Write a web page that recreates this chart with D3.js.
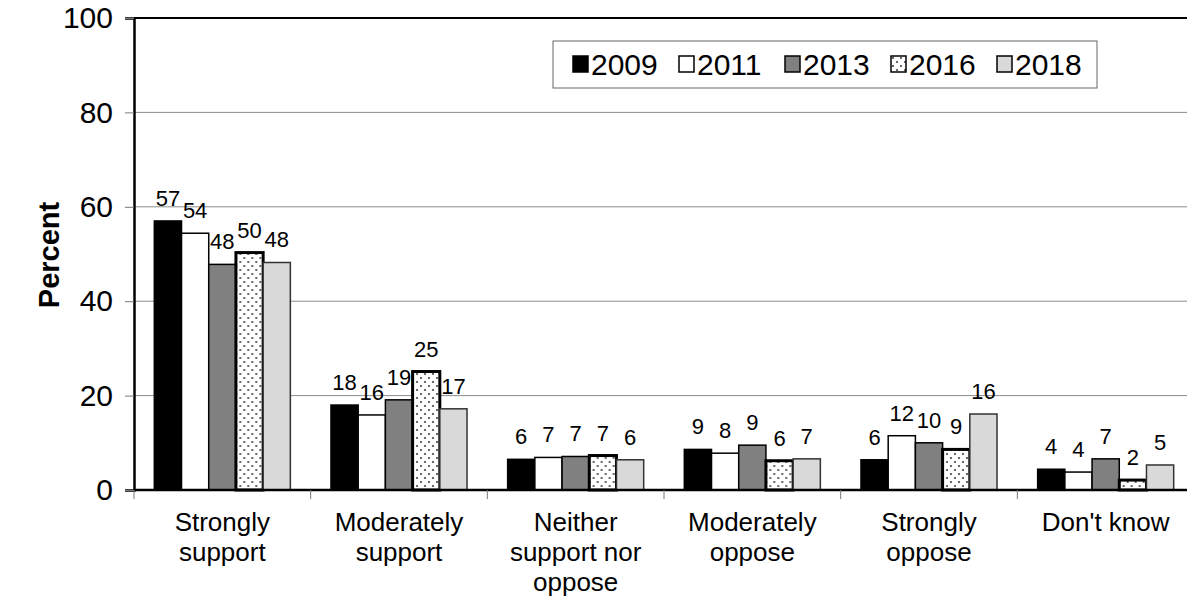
<!DOCTYPE html>
<html>
<head>
<meta charset="utf-8">
<script src="https://cdn.jsdelivr.net/npm/d3@7"></script>
<style>
  html, body { margin: 0; padding: 0; background: #fff; }
  svg { display: block; font-family: "Liberation Sans", Arial, sans-serif; }
</style>
</head>
<body>
<svg id="chart" width="1187" height="598"></svg>
<script>
const categories = [
  ["Strongly", "support"],
  ["Moderately", "support"],
  ["Neither", "support nor", "oppose"],
  ["Moderately", "oppose"],
  ["Strongly", "oppose"],
  ["Don't know"]
];
const years = ["2009", "2011", "2013", "2016", "2018"];
const values2009 = [57.0, 18.0, 6.5, 8.6, 6.4, 4.4];
const values2011 = [54.4, 15.9, 6.9, 7.8, 11.5, 3.8];
const values2013 = [47.8, 19.1, 7.1, 9.5, 10.0, 6.6];
const values2016 = [50.3, 25.1, 7.3, 6.2, 8.6, 2.1];
const values2018 = [48.2, 17.2, 6.4, 6.6, 16.1, 5.3];
const labels2009 = [57, 18, 6, 9, 6, 4];
const labels2011 = [54, 16, 7, 8, 12, 4];
const labels2013 = [48, 19, 7, 9, 10, 7];
const labels2016 = [50, 25, 7, 6, 9, 2];
const labels2018 = [48, 17, 6, 7, 16, 5];
const yTicks = [0, 20, 40, 60, 80, 100];

const seriesValues = [values2009, values2011, values2013, values2016, values2018];
const seriesLabels = [labels2009, labels2011, labels2013, labels2016, labels2018];

const fills = ["#000000", "#ffffff", "#808080", "url(#dots)", "#d9d9d9"];
const strokes = ["#000000", "#000000", "#000000", "#000000", "#333333"];
const strokeW = [1.5, 1.5, 1.5, 3, 1.5];

const svg = d3.select("#chart");
const defs = svg.append("defs");
const pat = defs.append("pattern").attr("id", "dots")
  .attr("patternUnits", "userSpaceOnUse").attr("width", 8).attr("height", 8);
pat.append("rect").attr("width", 8).attr("height", 8).attr("fill", "#fff");
pat.append("circle").attr("cx", 2).attr("cy", 2).attr("r", 1.1).attr("fill", "#444");
pat.append("circle").attr("cx", 6).attr("cy", 6).attr("r", 1.1).attr("fill", "#444");

const pLeft = 134, pRight = 1194, pTop = 18, pBottom = 490;
const catKeys = categories.map((c, i) => i);

const x0 = d3.scaleBand().domain(catKeys).range([pLeft, pRight])
  .paddingInner(0.23).paddingOuter(0.115);
const x1 = d3.scaleBand().domain(years).range([0, x0.bandwidth()]).padding(0);
const y = d3.scaleLinear().domain([0, 100]).range([pBottom, pTop]);

// gridlines
svg.append("g").selectAll("line").data(yTicks.filter(t => t > 0 && t < 100)).join("line")
  .attr("x1", pLeft).attr("x2", pRight)
  .attr("y1", d => y(d)).attr("y2", d => y(d))
  .attr("stroke", "#8c8c8c").attr("stroke-width", 1);

// top border
svg.append("line").attr("x1", pLeft).attr("x2", pRight).attr("y1", y(100)).attr("y2", y(100))
  .attr("stroke", "#000").attr("stroke-width", 2);

// y axis
const yAxis = d3.axisLeft(y).tickValues(yTicks).tickSize(9).tickPadding(12);
const gy = svg.append("g").attr("transform", `translate(${pLeft},0)`).call(yAxis);
gy.select(".domain").attr("stroke", "#000").attr("stroke-width", 2.5);
gy.selectAll(".tick line").attr("stroke", "#777");
gy.selectAll(".tick text").attr("font-size", 30).attr("fill", "#000")
  .attr("font-family", "'Liberation Sans', Arial, sans-serif");

// bars
const groups = svg.append("g").selectAll("g").data(catKeys).join("g")
  .attr("transform", d => `translate(${x0(d)},0)`);
groups.selectAll("rect").data(ci => years.map((yr, si) => ({yr, si, v: seriesValues[si][ci]}))).join("rect")
  .attr("x", d => x1(d.yr)).attr("width", x1.bandwidth())
  .attr("y", d => y(d.v)).attr("height", d => y(0) - y(d.v))
  .attr("fill", d => fills[d.si]).attr("stroke", d => strokes[d.si])
  .attr("stroke-width", d => strokeW[d.si]);

groups.selectAll("text").data(ci => years.map((yr, si) => ({yr, si, v: seriesValues[si][ci], l: seriesLabels[si][ci]}))).join("text")
  .attr("x", d => x1(d.yr) + x1.bandwidth() / 2)
  .attr("y", d => y(d.v) - 15)
  .attr("text-anchor", "middle").attr("font-size", 22).attr("fill", "#000")
  .text(d => d.l);

// x axis
svg.append("line").attr("x1", pLeft).attr("x2", pRight).attr("y1", pBottom).attr("y2", pBottom)
  .attr("stroke", "#000").attr("stroke-width", 2.5);
const step = x0.step();
svg.append("g").selectAll("line").data(d3.range(catKeys.length + 1)).join("line")
  .attr("x1", i => pLeft + i * step).attr("x2", i => pLeft + i * step)
  .attr("y1", pBottom).attr("y2", pBottom + 9)
  .attr("stroke", "#777").attr("stroke-width", 1);

// category labels
const cl = svg.append("g").selectAll("text").data(catKeys).join("text")
  .attr("x", d => x0(d) + x0.bandwidth() / 2)
  .attr("y", 531).attr("text-anchor", "middle").attr("font-size", 26).attr("fill", "#000");
cl.selectAll("tspan").data(d => categories[d]).join("tspan")
  .attr("x", function() { return this.parentNode.getAttribute("x"); })
  .attr("dy", (d, i) => i === 0 ? 0 : 30)
  .text(d => d);

// y title
svg.append("text").attr("transform", "translate(59,255) rotate(-90)")
  .attr("text-anchor", "middle").attr("font-size", 29).attr("font-weight", "bold")
  .text("Percent");

// legend
const lg = svg.append("g");
lg.append("rect").attr("x", 553).attr("y", 41).attr("width", 544).attr("height", 47)
  .attr("fill", "#fff").attr("stroke", "#666").attr("stroke-width", 1);
const li = lg.selectAll("g").data(years).join("g")
  .attr("transform", (d, i) => `translate(${573 + i * 106},64)`);
li.append("rect").attr("x", 0).attr("y", -8).attr("width", 15).attr("height", 16)
  .attr("fill", (d, i) => fills[i]).attr("stroke", "#000").attr("stroke-width", 1.5);
li.append("text").attr("x", 18).attr("y", 11).attr("font-size", 30).text(d => d);
</script>
</body>
</html>
